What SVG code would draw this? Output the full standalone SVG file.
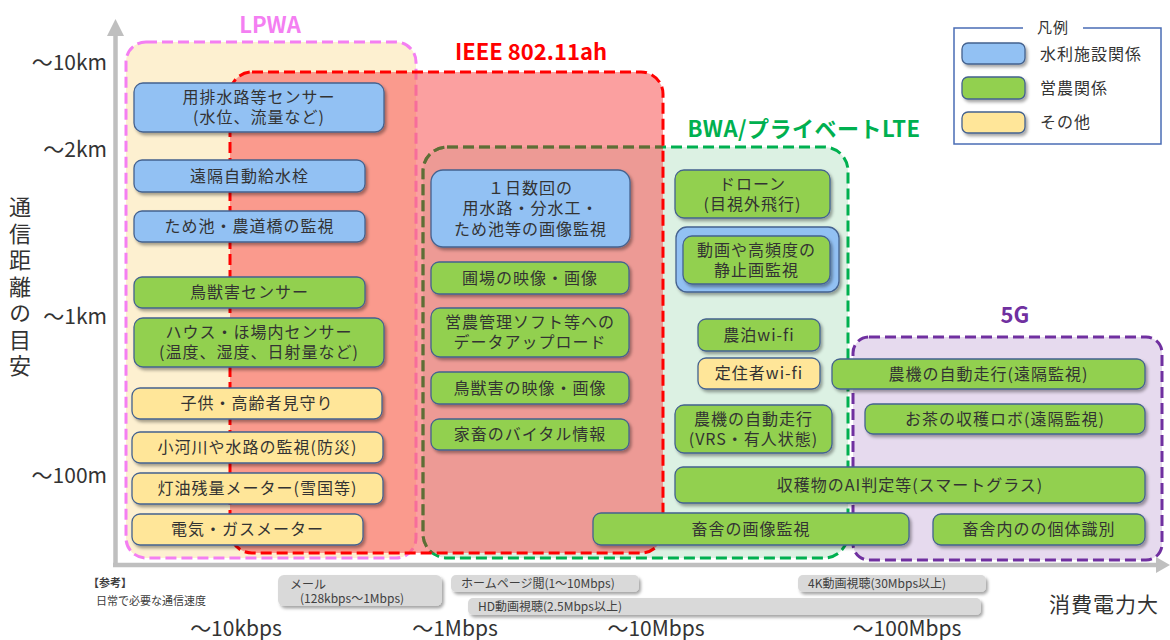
<svg xmlns="http://www.w3.org/2000/svg" width="1170" height="640" viewBox="0 0 1170 640">
<style>
.t{font-family:"Noto Sans CJK JP","Noto Sans",sans-serif;font-size:16px;fill:#333;text-anchor:middle;letter-spacing:1px}
.n{stroke:#44628f;stroke-width:1.3;filter:url(#sh)}
.b{fill:#92c1f3}.g{fill:#92d050}.y{fill:#ffe699}
.r{fill:#d9d9d9;filter:url(#sh)}
.s{font-family:"Noto Sans CJK JP","Noto Sans",sans-serif;font-size:12px;fill:#404040}
.ax{font-family:"Noto Sans CJK JP","Noto Sans",sans-serif;font-size:21px;fill:#333}
.lb{font-family:"Noto Sans CJK JP","Noto Sans",sans-serif;font-size:22px;font-weight:bold;text-anchor:middle}
.d{fill:none;stroke-width:3;stroke-dasharray:11 5}
</style>
<defs>
<filter id="sh" x="-10%" y="-20%" width="130%" height="160%"><feDropShadow dx="2" dy="2.5" stdDeviation="1.5" flood-color="#000" flood-opacity="0.35"/></filter>
<clipPath id="ieeeClip"><rect x="230" y="72" width="433" height="481" rx="22"/></clipPath>
</defs>

<g id="axes">
<line x1="115.5" y1="32" x2="115.5" y2="565" stroke="#bfbfbf" stroke-width="4.5"/>
<polygon points="115.5,19 107,36 124,36" fill="#bfbfbf"/>
<line x1="113" y1="565" x2="1158" y2="565" stroke="#bfbfbf" stroke-width="4.5"/>
<polygon points="1170,565 1156,557 1156,573" fill="#bfbfbf"/>
</g>

<g id="region-lpwa">
<rect x="126" y="42" width="290" height="516" rx="20" fill="#fdf0d0"/>
<rect x="126" y="42" width="290" height="516" rx="20" class="d" stroke="#f47ff2"/>
<text x="270" y="33" class="lb" fill="#f47ff2">LPWA</text>
</g>
<g id="region-bwa">
<rect x="423" y="147" width="425" height="411" rx="24" fill="#dcf1e3"/>
<rect x="423" y="147" width="425" height="411" rx="24" class="d" stroke="#00b050"/>
<text x="804" y="137" class="lb" fill="#00b050" style="letter-spacing:0.5px">BWA/プライベートLTE</text>
</g>
<g id="region-5g">
<rect x="853" y="337" width="309" height="223" rx="16" fill="#e6daee"/>
<rect x="853" y="337" width="309" height="223" rx="16" class="d" stroke="#7030a0"/>
<text x="1015" y="323" class="lb" fill="#7030a0">5G</text>
</g>
<g id="region-ieee">
<rect x="230" y="72" width="433" height="481" rx="22" fill="#f86161" fill-opacity="0.6"/>
<rect x="423" y="147" width="425" height="411" rx="24" class="d" stroke="#5e6e36" clip-path="url(#ieeeClip)"/>
<rect x="230" y="72" width="433" height="481" rx="22" class="d" stroke="#ff0000" stroke-width="3.5"/>
<text x="531" y="60" class="lb" fill="#ff0000">IEEE 802.11ah</text>
</g>

<g id="legend">
<rect x="954" y="28" width="207" height="116" fill="#fff" stroke="#4a6cb5" stroke-width="1.5"/>
<rect x="1023" y="20" width="60" height="16" fill="#fff"/>
<text x="1053" y="33" class="t" style="font-size:15px">凡例</text>
<rect x="962" y="43" width="63" height="21" rx="6" class="n b"/>
<rect x="962" y="77" width="63" height="22" rx="6" class="n g"/>
<rect x="962" y="112" width="63" height="21" rx="6" class="n y"/>
<text x="1040" y="59.5" class="t" style="text-anchor:start">水利施設関係</text>
<text x="1040" y="93.5" class="t" style="text-anchor:start">営農関係</text>
<text x="1040" y="128" class="t" style="text-anchor:start">その他</text>
</g>

<g id="n1"><rect x="134" y="83" width="250" height="49" rx="9" class="n b"/><text class="t"><tspan x="259" y="103">用排水路等センサー</tspan><tspan x="259" y="123">(水位、流量など)</tspan></text></g>
<g id="n2"><rect x="134" y="160" width="231" height="32" rx="8" class="n b"/><text x="249.5" y="181.5" class="t">遠隔自動給水栓</text></g>
<g id="n3"><rect x="134" y="211" width="231" height="31" rx="8" class="n b"/><text x="249.5" y="232" class="t">ため池・農道橋の監視</text></g>
<g id="n4"><rect x="134" y="277" width="231" height="31" rx="8" class="n g"/><text x="249.5" y="298" class="t">鳥獣害センサー</text></g>
<g id="n5"><rect x="134" y="318" width="250" height="49" rx="9" class="n g"/><text class="t"><tspan x="259" y="338">ハウス・ほ場内センサー</tspan><tspan x="259" y="358">(温度、湿度、日射量など)</tspan></text></g>
<g id="n6"><rect x="132" y="388" width="250" height="31" rx="8" class="n y"/><text x="257" y="409" class="t">子供・高齢者見守り</text></g>
<g id="n7"><rect x="132" y="432" width="251" height="31" rx="8" class="n y"/><text x="257.5" y="453" class="t">小河川や水路の監視(防災)</text></g>
<g id="n8"><rect x="132" y="473" width="251" height="31" rx="8" class="n y"/><text x="257.5" y="494" class="t">灯油残量メーター(雪国等)</text></g>
<g id="n9"><rect x="132" y="514" width="231" height="31" rx="8" class="n y"/><text x="247.5" y="535" class="t">電気・ガスメーター</text></g>

<g id="n10"><rect x="431" y="170" width="199" height="77" rx="12" class="n b"/><text class="t"><tspan x="530.5" y="193.5">１日数回の</tspan><tspan x="530.5" y="214">用水路・分水工・</tspan><tspan x="530.5" y="234.5">ため池等の画像監視</tspan></text></g>
<g id="n11"><rect x="431" y="262" width="198" height="32" rx="8" class="n g"/><text x="530" y="283.5" class="t">圃場の映像・画像</text></g>
<g id="n12"><rect x="431" y="308" width="198" height="49" rx="9" class="n g"/><text class="t"><tspan x="530" y="328">営農管理ソフト等への</tspan><tspan x="530" y="348">データアップロード</tspan></text></g>
<g id="n13"><rect x="431" y="372" width="198" height="32" rx="8" class="n g"/><text x="530" y="393.5" class="t">鳥獣害の映像・画像</text></g>
<g id="n14"><rect x="431" y="419" width="198" height="31" rx="8" class="n g"/><text x="530" y="440" class="t">家畜のバイタル情報</text></g>

<g id="n15"><rect x="675" y="170" width="155" height="48" rx="9" class="n g"/><text class="t"><tspan x="752.5" y="189.5">ドローン</tspan><tspan x="752.5" y="209.5">(目視外飛行)</tspan></text></g>
<g id="n16"><rect x="676" y="227" width="163" height="65" rx="11" class="n b"/><rect x="683" y="236" width="147" height="48" rx="9" class="n g"/><text class="t"><tspan x="756.5" y="255.5">動画や高頻度の</tspan><tspan x="756.5" y="275.5">静止画監視</tspan></text></g>
<g id="n17"><rect x="698" y="319" width="122" height="32" rx="8" class="n g"/><text x="759" y="340.5" class="t">農泊wi-fi</text></g>
<g id="n18"><rect x="698" y="358" width="122" height="31" rx="8" class="n y"/><text x="759" y="379" class="t">定住者wi-fi</text></g>
<g id="n19"><rect x="675" y="405" width="157" height="48" rx="9" class="n g"/><text class="t"><tspan x="753.5" y="424.5">農機の自動走行</tspan><tspan x="753.5" y="444.5">(VRS・有人状態)</tspan></text></g>

<g id="n23"><rect x="832" y="359" width="313" height="30" rx="8" class="n g"/><text x="988.5" y="379.5" class="t">農機の自動走行(遠隔監視)</text></g>
<g id="n24"><rect x="865" y="404" width="280" height="30" rx="8" class="n g"/><text x="1005" y="424.5" class="t">お茶の収穫ロボ(遠隔監視)</text></g>
<g id="n20"><rect x="675" y="467" width="470" height="36" rx="8" class="n g"/><text x="910" y="490.5" class="t">収穫物のAI判定等(スマートグラス)</text></g>
<g id="n21"><rect x="593" y="513" width="316" height="32" rx="8" class="n g"/><text x="751" y="534.5" class="t">畜舎の画像監視</text></g>
<g id="n22"><rect x="933" y="514" width="212" height="31" rx="8" class="n g"/><text x="1039" y="535" class="t">畜舎内のの個体識別</text></g>

<g id="connectors"></g>

<g id="reference">
<text x="88" y="587" class="s" style="font-size:11px;font-weight:bold">【参考】</text>
<text x="96" y="605" class="s" style="font-size:11px">日常で必要な通信速度</text>
<rect x="278" y="575" width="164" height="31" rx="6" class="r"/>
<text class="s"><tspan x="290" y="589">メール</tspan><tspan x="300" y="603">(128kbps～1Mbps)</tspan></text>
<rect x="451" y="575" width="188" height="17" rx="5" class="r"/>
<text x="461" y="588" class="s">ホームページ閲(1～10Mbps)</text>
<rect x="798" y="575" width="188" height="17" rx="5" class="r"/>
<text x="808" y="588" class="s">4K動画視聴(30Mbps以上)</text>
<rect x="468" y="598" width="513" height="17" rx="5" class="r"/>
<text x="478" y="611" class="s">HD動画視聴(2.5Mbps以上)</text>
</g>

<g id="axis-labels">
<text x="107" y="70" class="ax" text-anchor="end">～10km</text>
<text x="107" y="157" class="ax" text-anchor="end">～2km</text>
<text x="107" y="324" class="ax" text-anchor="end">～1km</text>
<text x="107" y="483" class="ax" text-anchor="end">～100m</text>
<text x="236" y="636" class="ax" text-anchor="middle">～10kbps</text>
<text x="455" y="636" class="ax" text-anchor="middle">～1Mbps</text>
<text x="656" y="636" class="ax" text-anchor="middle">～10Mbps</text>
<text x="907" y="636" class="ax" text-anchor="middle">～100Mbps</text>
<text x="1049" y="612" class="ax" style="letter-spacing:1px">消費電力大</text>
<text x="20" y="196" class="ax" style="font-size:22px;writing-mode:vertical-rl;letter-spacing:4.5px">通信距離の目安</text>
</g>
</svg>
